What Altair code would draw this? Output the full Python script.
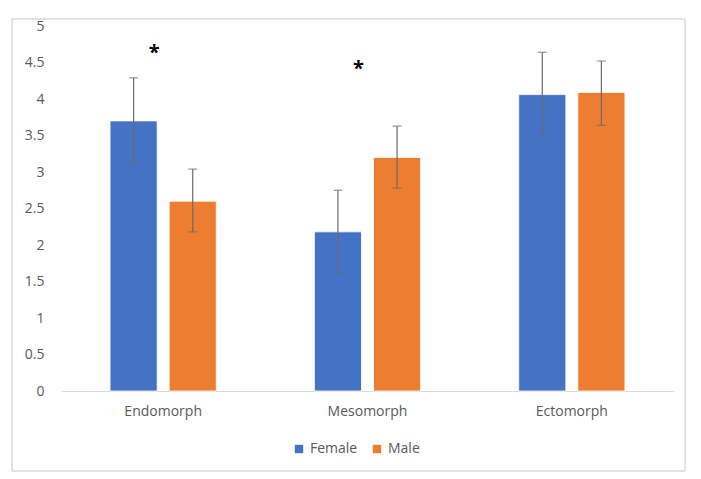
import altair as alt
import pandas as pd

categories = ["Endomorph", "Mesomorph", "Ectomorph"]
groups = ["Female", "Male"]
female_mean = [3.70, 2.18, 4.06]
male_mean = [2.60, 3.20, 4.09]
female_lo = [3.12, 1.62, 3.49]
female_hi = [4.29, 2.75, 4.64]
male_lo = [2.18, 2.78, 3.64]
male_hi = [3.04, 3.63, 4.52]
star_cats = ["Endomorph", "Mesomorph"]
star_vals = [4.68, 4.46]
y_ticks = [0, 0.5, 1, 1.5, 2, 2.5, 3, 3.5, 4, 4.5, 5]

rows = []
for i, c in enumerate(categories):
    rows.append({"cat": c, "sex": "Female", "mean": female_mean[i], "lo": female_lo[i], "hi": female_hi[i]})
    rows.append({"cat": c, "sex": "Male", "mean": male_mean[i], "lo": male_lo[i], "hi": male_hi[i]})
df = pd.DataFrame(rows)
stars = pd.DataFrame({"cat": star_cats, "v": star_vals, "s": ["*"] * len(star_cats)})

FONT = "Open Sans"
GRAY = "#595959"
FS = 14

x_axis = alt.Axis(labelAngle=0, labelFont=FONT, labelFontSize=FS, labelColor=GRAY,
                  domainColor="#d9d9d9", ticks=False, labelPadding=13)
y_axis = alt.Axis(values=y_ticks, format="~g", labelOverlap=False, grid=False, domain=False,
                  ticks=False, labelFont=FONT, labelFontSize=FS, labelColor=GRAY, labelPadding=17)
x_scale = alt.Scale(paddingInner=0, paddingOuter=0)
y_scale = alt.Scale(domain=[0, 5], nice=False)


def X():
    return alt.X("cat:N", sort=categories, title=None, scale=x_scale, axis=x_axis)


def Y(field):
    return alt.Y(field, title=None, scale=y_scale, axis=y_axis)


xo = alt.XOffset("sex:N", sort=groups, scale=alt.Scale(paddingInner=0.203, paddingOuter=0.83))

color = alt.Color("sex:N", sort=groups, title=None,
                  scale=alt.Scale(domain=groups, range=["#4472c4", "#ed7d31"]),
                  legend=alt.Legend(orient="none", direction="horizontal", legendX=231, legendY=416,
                                    symbolType="square", symbolSize=70, symbolStrokeWidth=0,
                                    labelFont=FONT, labelFontSize=FS, labelColor=GRAY,
                                    columnPadding=12, symbolOffset=0))

base = alt.Chart(df)
bars = base.mark_bar(stroke="white", strokeWidth=0.8).encode(x=X(), xOffset=xo, y=Y("mean:Q"), color=color)
err = base.mark_rule(color="#6b6b6b", strokeWidth=1.2).encode(
    x=X(), xOffset=xo, y=Y("lo:Q"), y2="hi:Q")
cap_lo = base.mark_tick(color="#6b6b6b", thickness=1.2, size=9).encode(
    x=X(), xOffset=xo, y=Y("lo:Q"))
cap_hi = base.mark_tick(color="#6b6b6b", thickness=1.2, size=9).encode(
    x=X(), xOffset=xo, y=Y("hi:Q"))
star = alt.Chart(stars).mark_text(font=FONT, fontSize=20, fontWeight="bold", color="black", dx=-9, dy=4).encode(
    x=X(), y=Y("v:Q"), text="s:N")
border = alt.Chart(stars).mark_rect(fill=None, stroke="#d9d9d9", strokeWidth=1).encode(
    x=alt.value(-49), x2=alt.value(624), y=alt.value(-7), y2=alt.value(445))

chart = alt.layer(border, bars, err, cap_lo, cap_hi, star).properties(
    width=613, height=365, background="white",
    padding={"left": 3, "top": 10, "right": 0, "bottom": 0}
).configure_view(stroke=None)

chart.save("out.html", embed_options={"renderer": "svg", "actions": False})
